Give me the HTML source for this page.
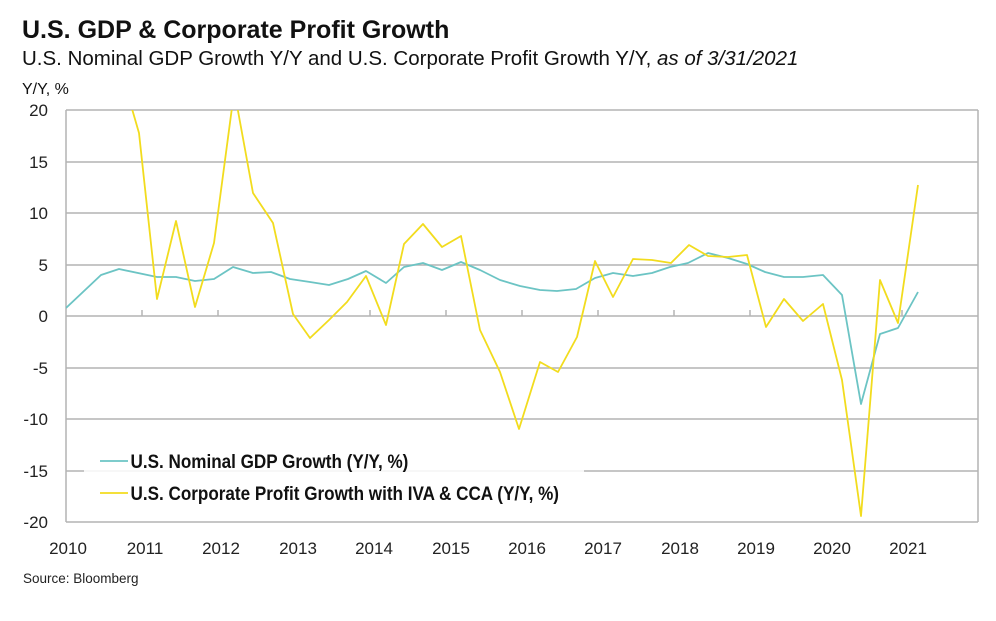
<!DOCTYPE html>
<html><head><meta charset="utf-8"><style>
body{margin:0;background:#fff;width:996px;height:616px;overflow:hidden;font-family:"Liberation Sans",sans-serif}
</style></head><body>
<svg width="996" height="616" xmlns="http://www.w3.org/2000/svg" font-family="Liberation Sans, sans-serif">
<text x="22" y="38" font-size="25" font-weight="bold" fill="#111">U.S. GDP &amp; Corporate Profit Growth</text>
<text x="22" y="65" font-size="20.5" fill="#111">U.S. Nominal GDP Growth Y/Y and U.S. Corporate Profit Growth Y/Y, <tspan font-style="italic">as of 3/31/2021</tspan></text>
<text x="22" y="94" font-size="16" fill="#111">Y/Y, %</text>
<g stroke="#b4b4b4" stroke-width="1.5">
<line x1="66" y1="110" x2="978" y2="110"/><line x1="66" y1="162" x2="978" y2="162"/><line x1="66" y1="213" x2="978" y2="213"/><line x1="66" y1="265" x2="978" y2="265"/><line x1="66" y1="316" x2="978" y2="316"/><line x1="66" y1="368" x2="978" y2="368"/><line x1="66" y1="419" x2="978" y2="419"/><line x1="66" y1="471" x2="978" y2="471"/><line x1="66" y1="522" x2="978" y2="522"/>
<line x1="66" y1="110" x2="66" y2="522"/><line x1="978" y1="110" x2="978" y2="522"/>
<line x1="142" y1="310" x2="142" y2="316"/><line x1="218" y1="310" x2="218" y2="316"/><line x1="370" y1="310" x2="370" y2="316"/><line x1="446" y1="310" x2="446" y2="316"/><line x1="522" y1="310" x2="522" y2="316"/><line x1="598" y1="310" x2="598" y2="316"/><line x1="674" y1="310" x2="674" y2="316"/><line x1="750" y1="310" x2="750" y2="316"/><line x1="902" y1="310" x2="902" y2="316"/>
</g>
<g font-size="17" fill="#222" text-anchor="end">
<text x="48" y="116">20</text><text x="48" y="168">15</text><text x="48" y="219">10</text><text x="48" y="271">5</text><text x="48" y="322">0</text><text x="48" y="374">-5</text><text x="48" y="425">-10</text><text x="48" y="477">-15</text><text x="48" y="528">-20</text>
</g>
<g font-size="17" fill="#222" text-anchor="middle">
<text x="68" y="554">2010</text><text x="145" y="554">2011</text><text x="221" y="554">2012</text><text x="298" y="554">2013</text><text x="374" y="554">2014</text><text x="451" y="554">2015</text><text x="527" y="554">2016</text><text x="603" y="554">2017</text><text x="680" y="554">2018</text><text x="756" y="554">2019</text><text x="832" y="554">2020</text><text x="908" y="554">2021</text>
</g>
<clipPath id="c"><rect x="66" y="110" width="912" height="412"/></clipPath>
<g clip-path="url(#c)" fill="none" stroke-width="1.8" stroke-linejoin="round">
<polyline stroke="#6cc4c4" points="66,308 101,275 119,269 157,277 176,277 195,281 214,279 233,267 253,273 271,272 290,279 310,282 329,285 348,279 366,271 386,283 404,267 423,263 442,270 461,262 480,270 500,280 520,286 540,290 557,291 576,289 595,278 613,273 633,276 652,273 670,267 688,263 708,253 728,258 747,264 765,272 784,277 803,277 823,275 842,295 861,404 880,334 898,328 918,292"/>
<polyline stroke="#f2dc1e" points="128,95 139,133 157,299 176,221 195,307 214,243 233,100 236,100 253,193 273,223 293,314 310,338 329,320 347,302 366,276 386,325 404,244 423,224 442,247 461,236 480,330 500,372 519,429 540,362 558,372 577,337 595,261 613,297 633,259 652,260 671,263 689,245 708,256 728,257 747,255 766,327 784,299 803,321 823,304 842,380 861,516 880,280 898,323 918,185"/>
</g>
<rect x="84" y="442" width="500" height="66" fill="#fff" opacity="0.85"/>
<line x1="100" y1="461" x2="128" y2="461" stroke="#6cc4c4" stroke-width="1.8"/>
<line x1="100" y1="493" x2="128" y2="493" stroke="#f2dc1e" stroke-width="1.8"/>
<g font-size="19" font-weight="bold" fill="#111" transform="scale(0.9,1)">
<text x="145" y="468">U.S. Nominal GDP Growth (Y/Y, %)</text>
<text x="145" y="500">U.S. Corporate Profit Growth with IVA &amp; CCA (Y/Y, %)</text>
</g>
<text x="23" y="583" font-size="13.5" fill="#222">Source: Bloomberg</text>
</svg>
</body></html>
